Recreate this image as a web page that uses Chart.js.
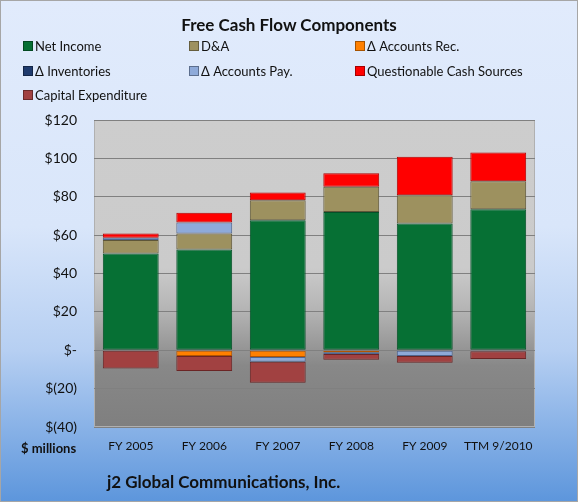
<!DOCTYPE html>
<html>
<head>
<meta charset="utf-8">
<script src="https://cdn.jsdelivr.net/npm/chart.js@4/dist/chart.umd.min.js"></script>
<style>
    html, body { margin: 0; padding: 0; }
    #wrap {
        position: relative;
        width: 576px;
        height: 500px;
        border: 1px solid #a6a6a6;
        background: linear-gradient(to bottom, #e1ebfc 0%, #d9e6fa 45%, #b6cff2 70%, #5d96dc 100%);
        font-family: Lato, 'Noto Sans', sans-serif;
        color: #111;
        overflow: hidden;
    }
    #chart { position: absolute; left: -1px; top: -1px; }
    .txt { position: absolute; white-space: nowrap; }
    #title { left: 0; width: 576px; top: 13px; text-align: center; font-size: 17px; font-weight: bold; }
    #footer { left: 106px; top: 470px; font-size: 17px; font-weight: bold; }
    #units { left: 20px; top: 439px; font-size: 13px; font-weight: bold; }
    .leg { position: absolute; font-size: 13px; line-height: 16px; }
    .leg i {
        display: inline-block; width: 8px; height: 8px; margin-right: 2px;
        border: 1px solid rgba(0,0,0,0.35); vertical-align: 0px;
    }
</style>
</head>
<body>
<div id="wrap">
    <canvas id="chart" width="578" height="502"></canvas>
    <div id="title" class="txt">Free Cash Flow Components</div>
    <div id="legend"></div>
    <div id="units" class="txt">$ millions</div>
    <div id="footer" class="txt">j2 Global Communications, Inc.</div>
</div>
<script>
// ==================== DATA ====================
const categories = ['FY 2005', 'FY 2006', 'FY 2007', 'FY 2008', 'FY 2009', 'TTM 9/2010'];
const netIncome = [50.4, 52.5, 67.8, 72.1, 66.0, 73.5];
const depreciation = [7.0, 8.3, 10.4, 13.1, 14.8, 14.6];
const accountsRec = [0, -3.0, -3.5, -1.0, 0, 0];
const inventories = [0, 0, 0, 0, 0, 0];
const accountsPay = [1.2, 5.8, -2.5, -1.0, -3.0, -0.5];
const questionable = [2.2, 5.0, 4.0, 7.0, 20.0, 15.0];
const capex = [-9.5, -7.8, -11.0, -3.0, -3.5, -4.0];
const yMin = -40;
const yMax = 120;
const yStep = 20;

// ==================== SERIES STYLE ====================
const series = [
    { label: 'Net Income', data: netIncome, fill: '#067034', edge: '#045028' },
    { label: 'D&A', data: depreciation, fill: '#9d915f', edge: '#5e5638' },
    { label: '\u0394 Accounts Rec.', data: accountsRec, fill: '#ff8000', edge: '#b35400' },
    { label: '\u0394 Inventories', data: inventories, fill: '#1f3b6e', edge: '#0f1f3d' },
    { label: '\u0394 Accounts Pay.', data: accountsPay, fill: '#8eaad9', edge: '#4f6690' },
    { label: 'Questionable Cash Sources', data: questionable, fill: '#ff0000', edge: '#b30000' },
    { label: 'Capital Expenditure', data: capex, fill: '#a14141', edge: '#6b2525' }
];

// ==================== HTML LEGEND ====================
const legendBox = document.getElementById('legend');
const colX = [22, 188, 354];
const rowY = [37, 62, 86];
series.forEach((s, i) => {
    const item = document.createElement('div');
    item.className = 'leg';
    item.style.left = colX[i % 3] + 'px';
    item.style.top = rowY[Math.floor(i / 3)] + 'px';
    item.innerHTML = `<i style="background:${s.fill}"></i>${s.label}`;
    legendBox.appendChild(item);
});

// ==================== PLOT BACKGROUND ====================
const plotBackground = {
    id: 'plotBackground',
    beforeDraw(chart) {
        const { ctx, chartArea: a } = chart;
        const g = ctx.createLinearGradient(0, a.top, 0, a.bottom);
        g.addColorStop(0, '#cdcdcd');
        g.addColorStop(0.48, '#cbcbcb');
        g.addColorStop(0.62, '#b4b4b4');
        g.addColorStop(0.8, '#888888');
        g.addColorStop(1, '#7f7f7f');
        ctx.save();
        ctx.fillStyle = g;
        ctx.fillRect(a.left, a.top, a.right - a.left, a.bottom - a.top);
        ctx.strokeStyle = '#b0b0b0';
        ctx.strokeRect(a.left + 0.5, a.top + 0.5, a.right - a.left - 1, a.bottom - a.top - 1);
        ctx.restore();
    }
};

const money = (v) => {
    if (v === 0) return '$-';
    if (v < 0) return '$(' + (-v) + ')';
    return '$' + v;
};

// ==================== CHART ====================
new Chart(document.getElementById('chart'), {
    type: 'bar',
    data: {
        labels: categories,
        datasets: series.map(s => ({
            label: s.label,
            // empty components are left out so they leave no border line
            data: s.data.map(v => (v === 0 ? null : v)),
            backgroundColor: s.fill,
            borderColor: s.edge,
            borderWidth: 1,
            borderSkipped: false,
            barPercentage: 0.76,
            categoryPercentage: 1
        }))
    },
    options: {
        responsive: false,
        devicePixelRatio: 1,
        animation: false,
        layout: { padding: { top: 120, right: 43, left: 0, bottom: 0 } },
        plugins: {
            legend: { display: false },
            title: { display: false },
            tooltip: { enabled: false }
        },
        scales: {
            x: {
                stacked: true,
                afterFit: (scale) => { scale.height = 75; },
                grid: { display: false },
                border: { display: false },
                ticks: {
                    color: '#111',
                    padding: 4,
                    maxRotation: 0,
                    minRotation: 0,
                    autoSkip: false,
                    font: { family: 'Lato', size: 12 }
                }
            },
            y: {
                stacked: true,
                min: yMin,
                max: yMax,
                afterFit: (scale) => { scale.width = 94; },
                grid: { color: '#808080', lineWidth: 1, drawTicks: false },
                border: { display: false },
                ticks: {
                    stepSize: yStep,
                    color: '#111',
                    padding: 17,
                    font: { family: 'Lato', size: 14 },
                    callback: (v) => money(v)
                }
            }
        }
    },
    plugins: [plotBackground]
});
</script>
</body>
</html>
